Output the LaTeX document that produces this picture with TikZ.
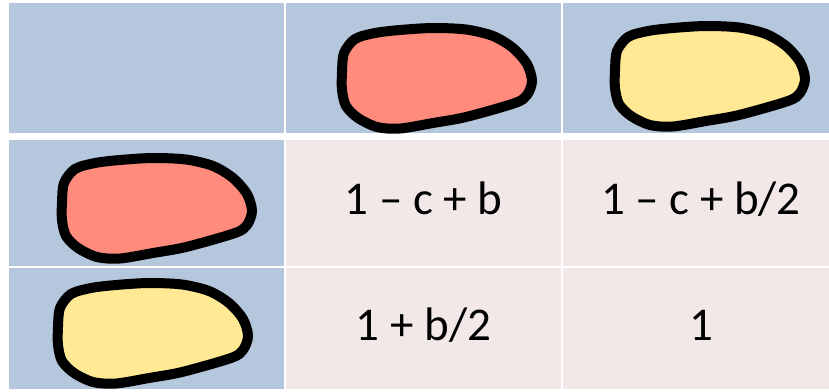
\documentclass[tikz,border=0pt]{standalone}
\usepackage{fontspec}
\setmainfont{Carlito}
\usetikzlibrary{positioning}

\definecolor{headblue}{RGB}{180,199,220}
\definecolor{bodypink}{RGB}{242,232,232}
\definecolor{redcell}{RGB}{255,139,125}
\definecolor{yellowcell}{RGB}{255,233,148}

\tikzset{
	head/.style={fill=headblue, inner sep=0pt, outer sep=0pt, anchor=north west},
	body/.style={fill=bodypink, inner sep=0pt, outer sep=0pt, anchor=north west,
		font=\fontsize{47}{56}\selectfont, text height=23pt, text depth=0pt},
	cellblob/.pic={
		\draw[pic actions, line width=10pt] plot[smooth cycle] coordinates {
			(7,50) (9,31) (20,17) (40,11) (65,8) (98,6) (131,7.5) (158,14)
			(178,26) (192,42) (197,59) (192,73) (180,81) (131,95) (98,101)
			(65,106.5) (42,105) (23,96) (11,84) (7,68)};
	}
}

\begin{document}
\begin{tikzpicture}[x=1pt, y=-1pt]
	\useasboundingbox (0,0) rectangle (829,391);
	\clip (0,0) rectangle (829,391);

	% header row
	\node[head, minimum width=275pt, minimum height=130.5pt] (corner) at (9,2.5) {};
	\node[head, minimum width=275pt, minimum height=130.5pt] (toprow2) at (286,2.5) {};
	\node[head, minimum width=276pt, minimum height=130.5pt] (toprow3) at (563,2.5) {};

	% header column
	\node[head, minimum width=275pt, minimum height=126pt] (leftcol2) at (9,140) {};
	\node[head, minimum width=275pt, minimum height=121pt] (leftcol3) at (9,268) {};

	% payoffs
	\node[body, minimum width=275pt, minimum height=126pt] (rr) at (286,140) {1 – c + b};
	\node[body, minimum width=276pt, minimum height=126pt] (ry) at (563,140) {1 – c + b/2};
	\node[body, minimum width=275pt, minimum height=121pt] (yr) at (286,268) {1 + b/2};
	\node[body, minimum width=276pt, minimum height=121pt] (yy) at (563,268) {1};

	% cells
	\pic[fill=redcell] at (335,22) {cellblob};
	\pic[fill=yellowcell] at (608,20) {cellblob};
	\pic[fill=redcell] at (55,152) {cellblob};
	\pic[fill=yellowcell] at (51,277) {cellblob};
\end{tikzpicture}
\end{document}
